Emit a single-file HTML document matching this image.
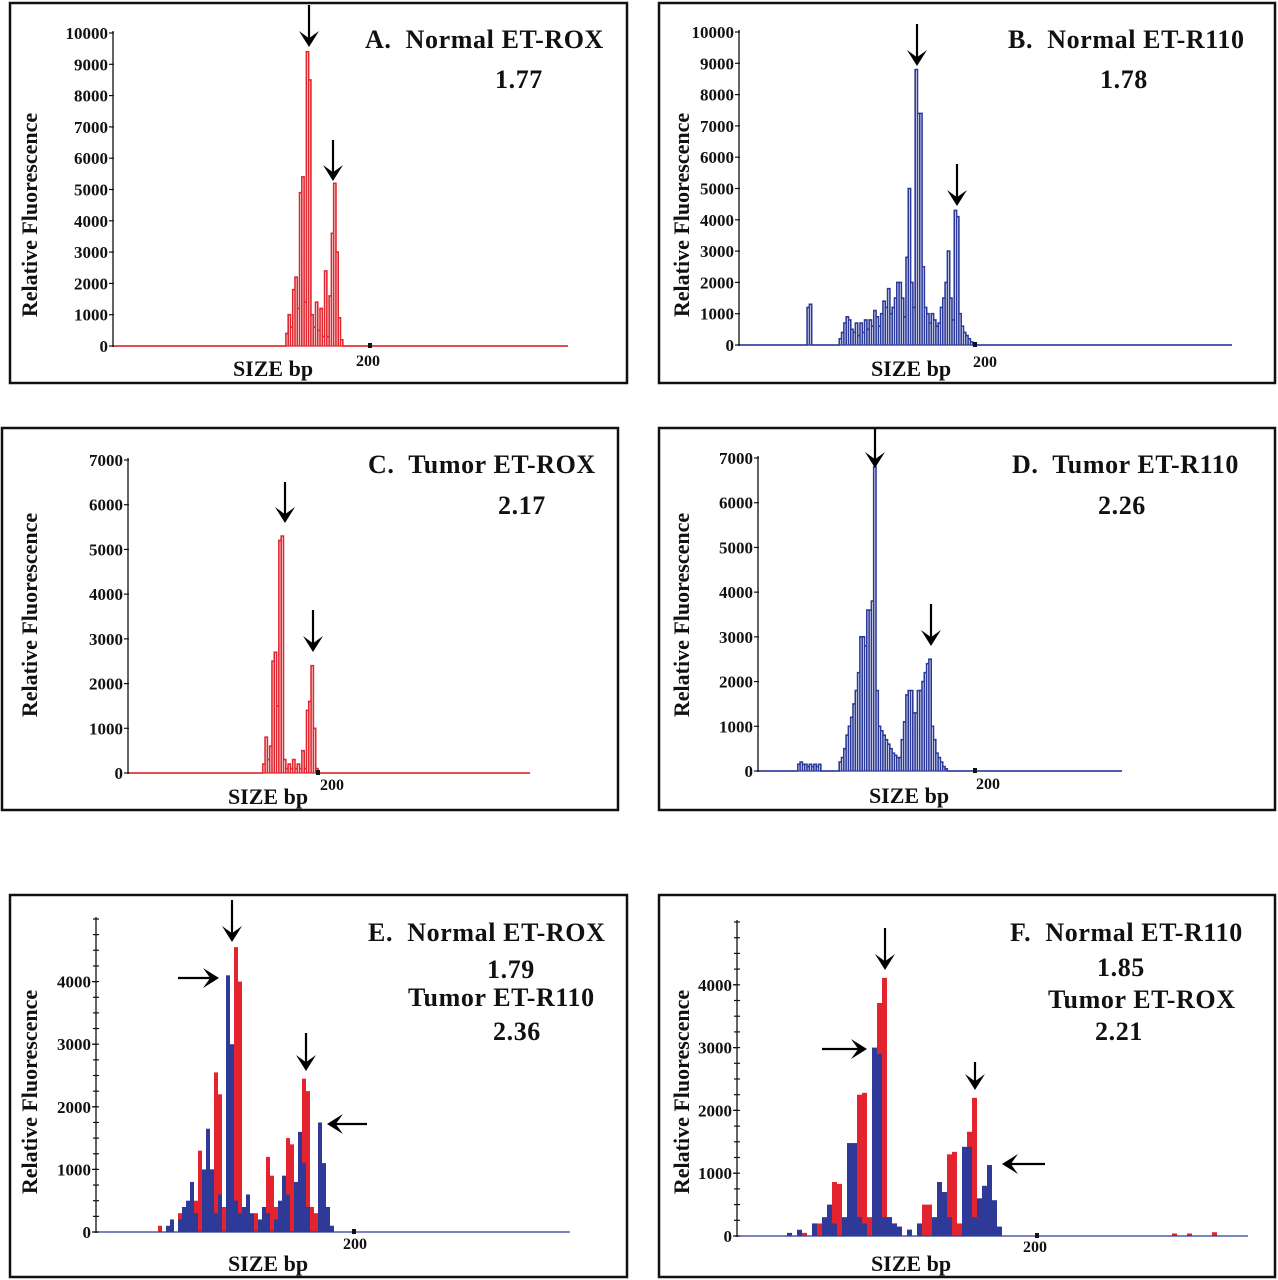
<!DOCTYPE html>
<html><head><meta charset="utf-8">
<style>
html,body{margin:0;padding:0;background:#fff;}
svg{display:block;font-family:"Liberation Serif",serif;font-weight:bold;}
.pre{white-space:pre;}
</style></head>
<body>
<svg id="fig" width="1278" height="1280" viewBox="0 0 1278 1280" xmlns="http://www.w3.org/2000/svg"></svg>
<script>
// ---- data (bp bin : relative fluorescence) ----
const aBins = [163,164,165,166,167,168,169,170,171,172,173,174,175,176,177,178,179,180,181,182,183,184,185,186,187];
const aVals = [400,1000,600,1800,2200,1200,4900,5400,1400,9400,8500,1000,600,1400,500,1200,300,2400,300,1600,3600,5200,3000,900,200];

const bBins = [127,128,129,141,142,143,144,145,146,147,148,149,150,151,152,153,154,155,156,157,158,159,160,161,162,163,164,165,166,167,168,169,170,171,172,173,174,175,176,177,178,179,180,181,182,183,184,185,186,187,188,189,190,191,192,193,194,195,196,197,198];
const bVals = [1200,1300,0,200,400,700,900,800,500,400,700,300,700,400,800,500,800,600,1100,900,600,1000,1400,1200,1800,1000,1200,1500,2000,2000,1500,900,2800,5000,2000,1200,8800,7400,7400,2500,1200,1000,700,1000,800,600,700,1200,1500,2000,3000,1500,800,4300,4100,1000,600,400,300,200,100];

const cBins = [176,177,178,179,180,181,182,183,184,185,186,187,188,189,190,191,192,193,194,195,196,197,198,199];
const cVals = [200,800,300,600,2500,2700,1500,5200,5300,300,100,200,100,300,100,200,100,500,100,1400,1600,2400,1000,100];

const dBins = [123,124,125,126,127,128,129,130,131,132,133,134,141,142,143,144,145,146,147,148,149,150,151,152,153,154,155,156,157,158,159,160,161,162,163,164,165,166,167,168,169,170,171,172,173,174,175,176,177,178,179,180,181,182,183,184,185,186,187];
const dVals = [150,200,150,150,100,150,100,150,100,150,0,0,200,300,500,800,1000,1200,1500,1800,2200,3000,3000,2800,3600,3600,3800,6800,1800,1000,900,800,700,600,500,400,350,300,300,700,1100,1700,1800,1800,1300,1300,1800,1800,2000,2200,2400,2500,1000,700,400,300,200,100,50];

const eRedBins = [151,154,156,158,160,161,162,163,164,165,166,167,168,170,171,172,173,175,176,178,179,180,182,183,184,185,187,188,189,190];
const eRedVals = [100,150,300,200,500,1300,900,300,1000,2550,2200,400,600,4550,4000,300,200,300,200,1200,900,400,300,1500,1400,300,2450,2250,400,300];
const eBlueBins = [153,154,156,157,158,159,160,162,163,164,165,166,168,169,170,171,172,173,174,176,177,178,180,181,182,183,185,186,187,188,191,192,193,194];
const eBlueVals = [100,200,200,400,500,800,300,1000,1650,1000,300,600,4100,3000,500,300,400,600,300,200,400,300,200,500,900,600,800,1600,1100,400,1750,1100,400,100];

const fRedBins = [153,155,156,158,159,160,161,162,164,165,166,167,168,169,170,171,172,174,177,178,179,180,182,183,184,185,186,187,188,190,227,230,235];
const fRedVals = [50,200,200,100,860,830,200,100,2250,2280,300,200,3710,4110,300,200,100,100,500,500,200,100,1300,1340,200,300,1660,2200,300,50,40,40,60];
const fBlueBins = [150,152,155,157,158,159,161,162,163,164,165,167,168,169,170,171,172,174,176,179,180,181,182,185,186,187,188,189,190,191,192];
const fBlueVals = [50,100,200,300,500,200,300,1480,1480,300,200,3000,2900,300,300,200,150,100,200,300,860,700,300,1420,1420,300,600,800,1130,570,150];

const yTicksAF = [0,1000,2000,3000,4000,5000,6000,7000,8000,9000,10000];
const yTicksCD = [0,1000,2000,3000,4000,5000,6000,7000];
const yTicksEF = [0,1000,2000,3000,4000];

// ---- layout ----
const NS = "http://www.w3.org/2000/svg";
const svg = document.getElementById('fig');
function mk(tag, attrs, parent){
  const e = document.createElementNS(NS, tag);
  for (const k in attrs) e.setAttribute(k, attrs[k]);
  (parent||svg).appendChild(e);
  return e;
}
function txt(s, x, y, size, anchor, parent, name){
  const t = mk('text', {x:x, y:y, 'font-size':size, 'text-anchor':anchor||'start', fill:'#111'}, parent);
  
  
  t.textContent = s;
  return t;
}
function arrow(x1,y1,x2,y2,parent,name){
  const g = mk('g', {}, parent);
  
  
  const dx=x2-x1, dy=y2-y1, L=Math.hypot(dx,dy), ux=dx/L, uy=dy/L;
  mk('line',{x1:x1,y1:y1,x2:x2-ux*4,y2:y2-uy*4,stroke:'#000','stroke-width':2.2},g);
  const hl=16, hw=10;
  const bx=x2-ux*hl, by=y2-uy*hl;
  const p = `${x2},${y2} ${bx-uy*hw},${by+ux*hw} ${x2-ux*hl*0.55},${y2-uy*hl*0.55} ${bx+uy*hw},${by-ux*hw}`;
  mk('polygon',{points:p,fill:'#000'},g);
}

const panels = [
 {id:'a', frame:[10,3,617,380], ax:113, ax2:568, y0:346, yTop:33, yMax:10000, ticks:yTicksAF, minor:0, xStart:87, pxbp:2.275, tickX:370, lbl200:[368,366],
  series:[{bins:aBins, vals:aVals, color:'#e0262e', mode:'step', name:'rox-trace'}],
  title:['A.  Normal ET-ROX',365,48], vals:[['1.77',495,88]], ylab:[30,215], size:[273,375],
  arrows:[[309,5,309,47],[333,140,333,181]]},
 {id:'b', frame:[659,3,616,380], ax:739, ax2:1232, y0:345, yTop:32, yMax:10000, ticks:yTicksAF, minor:0, xStart:97.4, pxbp:2.3, tickX:975, lbl200:[985,367],
  series:[{bins:bBins, vals:bVals, color:'#2b3a9a', mode:'step', name:'r110-trace'}],
  title:['B.  Normal ET-R110',1008,48], vals:[['1.78',1100,88]], ylab:[682,215], size:[911,375],
  arrows:[[917,24,917,66],[957,164,957,206]]},
 {id:'c', frame:[2,428,616,382], ax:128, ax2:530, y0:773, yTop:460, yMax:7000, ticks:yTicksCD, minor:0, xStart:117.4, pxbp:2.3, tickX:318, lbl200:[332,790],
  series:[{bins:cBins, vals:cVals, color:'#e0262e', mode:'step', name:'rox-trace'}],
  title:['C.  Tumor ET-ROX',368,473], vals:[['2.17',498,514]], ylab:[30,615], size:[268,803],
  arrows:[[285,482,285,523],[313,610,313,652]]},
 {id:'d', frame:[659,428,616,382], ax:758, ax2:1122, y0:771, yTop:458, yMax:7000, ticks:yTicksCD, minor:0, xStart:105.7, pxbp:2.3, tickX:975, lbl200:[988,789],
  series:[{bins:dBins, vals:dVals, color:'#2b3a9a', mode:'step', name:'r110-trace'}],
  title:['D.  Tumor ET-R110',1012,473], vals:[['2.26',1098,514]], ylab:[682,615], size:[909,802],
  arrows:[[875,428,875,468],[931,604,931,646]]},
 {id:'e', frame:[10,895,617,382], ax:96, ax2:570, y0:1232, yTop:919, yMax:5000, ticks:yTicksEF, minor:250, xStart:135.5, pxbp:4, tickX:354, lbl200:[355,1249],
  series:[{bins:eRedBins, vals:eRedVals, color:'#e3232d', mode:'bar', name:'normal-rox-bars'},
          {bins:eBlueBins, vals:eBlueVals, color:'#2f3a98', mode:'bar', name:'tumor-r110-bars'}],
  title:['E.  Normal ET-ROX',368,941], vals:[['1.79',487,978],['Tumor ET-R110',408,1006],['2.36',493,1040]], ylab:[30,1092], size:[268,1270],
  arrows:[[232,900,232,942],[306,1033,306,1071],[178,978,219,978],[367,1124,327,1124]]},
 {id:'f', frame:[659,895,616,382], ax:737, ax2:1248, y0:1236, yTop:922, yMax:5000, ticks:yTicksEF, minor:250, xStart:140, pxbp:5, tickX:1037, lbl200:[1035,1252],
  series:[{bins:fRedBins, vals:fRedVals, color:'#e3232d', mode:'bar', name:'tumor-rox-bars'},
          {bins:fBlueBins, vals:fBlueVals, color:'#2f3a98', mode:'bar', name:'normal-r110-bars'}],
  title:['F.  Normal ET-R110',1010,941], vals:[['1.85',1097,976],['Tumor ET-ROX',1048,1008],['2.21',1095,1040]], ylab:[682,1092], size:[911,1270],
  arrows:[[885,928,885,970],[975,1062,975,1090],[822,1049,867,1049],[1045,1164,1002,1164]]}
];

panels.forEach(p=>{
  const g = mk('g',{});
  
  
  const fr = mk('rect',{x:p.frame[0],y:p.frame[1],width:p.frame[2],height:p.frame[3],fill:'none',stroke:'#111','stroke-width':2.5},g);
  
  
  const yScale = v => p.y0 - (v/p.yMax)*(p.y0-p.yTop);
  const xScale = bp => p.ax + (bp-p.xStart)*p.pxbp;

  p.series.forEach(s=>{
    const sg = mk('g',{},g);
    
    
    if (s.mode==='step'){
      let d = `M${p.ax},${p.y0}`;
      s.bins.forEach((b,i)=>{
        const x0=xScale(b), x1=xScale(b+1), y=yScale(s.vals[i]);
        d += ` L${x0},${p.y0} L${x0},${y} L${x1},${y} L${x1},${p.y0}`;
      });
      d += ` L${p.ax2},${p.y0}`;
      const path = mk('path',{d:d,fill:'none',stroke:s.color,'stroke-width':1.6},sg);
      
      
    } else {
      s.bins.forEach((b,i)=>{
        const x0=xScale(b), x1=xScale(b+1), y=yScale(s.vals[i]);
        const r = mk('rect',{x:x0,y:y,width:x1-x0,height:p.y0-y,fill:s.color},sg);
        
        
      });
    }
  });

  const xa = mk('line',{x1:p.ax,y1:p.y0,x2:p.ax2,y2:p.y0,stroke:p.series[p.series.length-1].color,'stroke-width':1.2},g);
  
  
  mk('rect',{x:p.tickX-2,y:p.y0-3,width:4,height:5,fill:'#111'},g);
  const ya = mk('line',{x1:p.ax,y1:p.yTop-2,x2:p.ax,y2:p.y0+1,stroke:'#111','stroke-width':1.3},g);
  
  
  if (p.minor){
    for(let v=0; v<=p.yMax; v+=p.minor){
      mk('line',{x1:p.ax-3,y1:yScale(v),x2:p.ax+3,y2:yScale(v),stroke:'#111','stroke-width':1.2},g);
    }
  }
  p.ticks.forEach(v=>{
    const y=yScale(v);
    mk('line',{x1:p.ax-4,y1:y,x2:p.ax+1,y2:y,stroke:'#111','stroke-width':1.2},g);
    txt(String(v), p.ax-5, y+6, 17, 'end', g, 'y-tick-label');
  });
  txt('200', p.lbl200[0], p.lbl200[1], 16, 'middle', g, 'x-tick-label');
  txt('SIZE bp', p.size[0], p.size[1]+1, 22, 'middle', g, 'x-axis-title');
  const yl = txt('Relative Fluorescence', 0, 0, 22, 'middle', g, 'y-axis-title');
  yl.setAttribute('transform',`translate(${p.ylab[0]+7},${p.ylab[1]}) rotate(-90)`);
  const tt = txt(p.title[0], p.title[1], p.title[2], 26, 'start', g, 'panel-title');
  tt.setAttribute('class','pre');
  tt.setAttribute('letter-spacing','0.6');
  p.vals.forEach(v=>{
    const t = txt(v[0], v[1], v[2], 26, 'start', g, 'ratio-label');
    t.setAttribute('letter-spacing','0.6');
  });
  p.arrows.forEach(a=> arrow(a[0],a[1],a[2],a[3],g,'peak-arrow'));
});
</script>
</body></html>
